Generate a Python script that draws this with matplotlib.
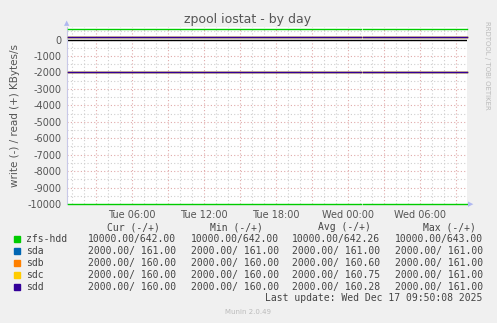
import matplotlib
matplotlib.use("Agg")
import matplotlib.pyplot as plt
import numpy as np

# ---- data (hours since Tue 00:00) ----
times = [0.67, 25.08, 25.09, 25.24, 33.9]
series = ["zfs-hdd", "sda", "sdb", "sdc", "sdd"]
colors = ["#00CC00", "#0066B3", "#FF8000", "#FFCC00", "#330099"]
read_vals = {
    "zfs-hdd": [642, 642, np.nan, 642, 642],
    "sda": [161, 161, np.nan, 161, 161],
    "sdb": [160, 160, np.nan, 160, 160],
    "sdc": [160, 160, np.nan, 160, 160],
    "sdd": [160, 160, np.nan, 160, 160],
}
write_vals = {
    "zfs-hdd": [10000, 10000, np.nan, 10000, 10000],
    "sda": [2000, 2000, np.nan, 2000, 2000],
    "sdb": [2000, 2000, np.nan, 2000, 2000],
    "sdc": [2000, 2000, np.nan, 2000, 2000],
    "sdd": [2000, 2000, np.nan, 2000, 2000],
}
cur = ["10000.00/642.00", "2000.00/ 161.00", "2000.00/ 160.00", "2000.00/ 160.00", "2000.00/ 160.00"]
mins = ["10000.00/642.00", "2000.00/ 161.00", "2000.00/ 160.00", "2000.00/ 160.00", "2000.00/ 160.00"]
avgs = ["10000.00/642.26", "2000.00/ 161.00", "2000.00/ 160.60", "2000.00/ 160.75", "2000.00/ 160.28"]
maxs = ["10000.00/643.00", "2000.00/ 161.00", "2000.00/ 161.00", "2000.00/ 161.00", "2000.00/ 161.00"]
xticks = [6, 12, 18, 24, 30]
xticklabels = ["Tue 06:00", "Tue 12:00", "Tue 18:00", "Wed 00:00", "Wed 06:00"]
yticks = list(range(0, -10001, -1000))
yticklabels = [str(v) for v in yticks]

W, H = 497, 323
fig = plt.figure(figsize=(W / 100, H / 100), dpi=100, facecolor="#F0F0F0")
L, R, T, B = 67, 467, 27, 204
ax = fig.add_axes([L / W, 1 - B / H, (R - L) / W, (B - T) / H])
ax.set_facecolor("white")
xmin, xmax = 0.583, 33.92
ax.set_xlim(xmin, xmax)
ax.set_ylim(-10000, 760)

# grid
for h in range(1, 34):
    col = "#E0AAAA" if h % 3 == 0 else "#CFCFCF"
    ax.axvline(h, color=col, lw=0.8, ls=(0, (1, 2)), zorder=1)
for v in range(-9500, 760, 500):
    col = "#E0AAAA" if v % 1000 == 0 else "#CFCFCF"
    ax.axhline(v, color=col, lw=0.8, ls=(0, (1, 2)), zorder=1)

ax.axhline(0, color="black", lw=1.0, zorder=2)
for s, c in zip(series, colors):
    ax.plot(times, [-w for w in write_vals[s]], color=c, lw=1.0, zorder=3, clip_on=False)
    ax.plot(times, read_vals[s], color=c, lw=1.0, zorder=3, clip_on=False)

for sp in ["top", "right", "bottom"]:
    ax.spines[sp].set_visible(False)
ax.spines["left"].set_color("#C8C8E8")
ax.tick_params(length=0, colors="#555555", labelsize=7, pad=4)
ax.set_xticks(xticks)
ax.set_xticklabels(xticklabels)
ax.set_yticks(yticks)
ax.set_yticklabels(yticklabels)
ax.set_ylabel("write (-) / read (+) KBytes/s", fontsize=7.5, color="#555555", labelpad=5)

# arrows
fig.text(L / W, 1 - 23 / H, "▲", fontsize=5, color="#B0B8F0", ha="center", va="center")
fig.text(471 / W, 1 - 204 / H, "▶", fontsize=5, color="#B0B8F0", ha="center", va="center")

fig.text(248 / W, 1 - 19 / H, "zpool iostat - by day", fontsize=9, color="#555555", ha="center", va="center")
fig.text(487 / W, 1 - 65 / H, "RRDTOOL / TOBI OETIKER", fontsize=5, color="#BBBBBB", rotation=-90,
         ha="center", va="center")

mono = dict(family="DejaVu Sans Mono", fontsize=7, color="#444444", va="center")
fig.text(160 / W, 1 - 227 / H, "Cur (-/+)", ha="right", **mono)
fig.text(263 / W, 1 - 227 / H, "Min (-/+)", ha="right", **mono)
fig.text(371 / W, 1 - 227 / H, "Avg (-/+)", ha="right", **mono)
fig.text(476 / W, 1 - 227 / H, "Max (-/+)", ha="right", **mono)
for i, s in enumerate(series):
    y = 1 - (239 + 12 * i) / H
    fig.patches.append(plt.Rectangle((14 / W, y - 3 / H), 6 / W, 6 / H, transform=fig.transFigure,
                                     color=colors[i]))
    fig.text(26 / W, y, s, ha="left", **mono)
    fig.text(176 / W, y, cur[i], ha="right", **mono)
    fig.text(278.7 / W, y, mins[i], ha="right", **mono)
    fig.text(380 / W, y, avgs[i], ha="right", **mono)
    fig.text(482.7 / W, y, maxs[i], ha="right", **mono)
fig.text(482.7 / W, 1 - 298 / H, "Last update: Wed Dec 17 09:50:08 2025", ha="right", **mono)
fig.text(248 / W, 1 - 312 / H, "Munin 2.0.49", fontsize=5, color="#BBBBBB", ha="center", va="center")

fig.savefig("out.png", dpi=100, facecolor=fig.get_facecolor())
